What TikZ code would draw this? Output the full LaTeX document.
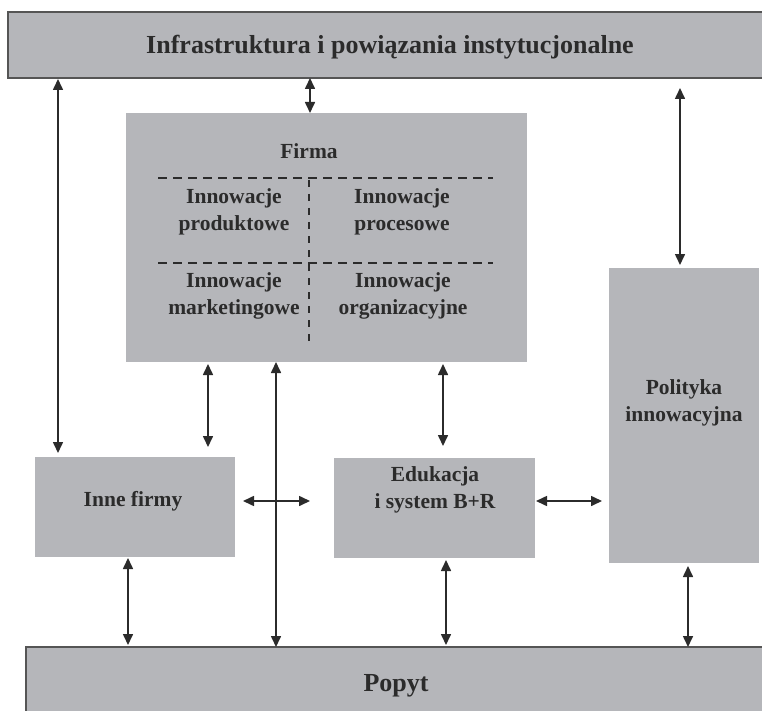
\documentclass[tikz,border=0pt]{standalone}
\usepackage{fontspec}
\setmainfont{Liberation Serif}
\usetikzlibrary{arrows.meta}
\definecolor{boxgray}{HTML}{B5B6BA}
\definecolor{inkgray}{HTML}{2B2B2B}
\begin{document}
\begin{tikzpicture}[x=1pt,y=-1pt,
  block/.style={fill=boxgray,draw=none,inner sep=0pt,outer sep=0pt},
  band/.style={fill=boxgray,draw=inkgray!80,line width=1.2pt,inner sep=0pt,outer sep=0pt},
  label/.style={text=inkgray,font=\fontsize{21.5}{26.5}\selectfont\bfseries,align=center,inner sep=0pt},
  biglabel/.style={text=inkgray,font=\fontsize{26}{30}\selectfont\bfseries,inner sep=0pt},
  link/.style={draw=inkgray,line width=1.6pt,{Triangle[length=11pt,width=10pt]}-{Triangle[length=11pt,width=10pt]}},
  divider/.style={draw=inkgray,line width=2.2pt,dash pattern=on 9pt off 6pt},
  vdivider/.style={draw=inkgray,line width=2.4pt,dash pattern=on 7pt off 7pt}]
\useasboundingbox (0,0) rectangle (762,711);
\clip (0,0) rectangle (762,711);

% outer bands
\node[band,minimum width=764pt,minimum height=66pt] (top) at (390,45) {};
\node[biglabel] at (390,47) {Infrastruktura i powiązania instytucjonalne};
\node[band,minimum width=740pt,minimum height=80pt] (pop) at (396,687) {};
\node[biglabel] at (396,686) {Popyt};

% firm block with its four kinds of innovation
\node[block,minimum width=401pt,minimum height=249pt] (firma) at (326.5,237.5) {};
\node[label] at (309,151) {Firma};
\draw[divider] (158,178) -- (493,178);
\draw[divider] (158,263) -- (493,263);
\draw[vdivider] (309,180) -- (309,348);
\node[label] at (234,212) {Innowacje\\produktowe};
\node[label] at (402,212) {Innowacje\\procesowe};
\node[label] at (234,296) {Innowacje\\marketingowe};
\node[label] at (403,296) {Innowacje\\organizacyjne};

% remaining actors
\node[block,minimum width=150pt,minimum height=295pt] (pol) at (684,415.5) {};
\node[label] at (684,403) {Polityka\\innowacyjna};
\node[block,minimum width=200pt,minimum height=100pt] (inne) at (135,507) {};
\node[label] at (133,501) {Inne firmy};
\node[block,minimum width=201pt,minimum height=100pt] (edu) at (434.5,508) {};
\node[label] at (435,490) {Edukacja\\i system B+R};

% columns and rows used by the connectors
\coordinate (cL) at (58,0);
\coordinate (cM) at (310,0);
\coordinate (cR) at (680,0);
\coordinate (cFI) at (208,0);
\coordinate (cLong) at (276,0);
\coordinate (cFE) at (443,0);
\coordinate (cIP) at (128,0);
\coordinate (cEP) at (446,0);
\coordinate (cPP) at (688,0);
\coordinate (rH) at (0,501);
\coordinate (xHend) at (310,0);

% connectors
\draw[link,shorten <=1pt,shorten >=4pt] (top.south -| cL) -- (inne.north -| cL);
\draw[link] (top.south -| cM) -- (firma.north -| cM);
\draw[link,shorten <=10pt,shorten >=3pt] (top.south -| cR) -- (pol.north -| cR);
\draw[link,shorten <=2pt,shorten >=10pt] (firma.south -| cFI) -- (inne.north -| cFI);
\draw[link] (firma.south -| cLong) -- (pop.north -| cLong);
\draw[link,shorten <=2pt,shorten >=12pt] (firma.south -| cFE) -- (edu.north -| cFE);
\draw[link,shorten <=8pt] (inne.east |- rH) -- (xHend |- rH);
\draw[link,shorten <=1pt,shorten >=7pt] (edu.east |- rH) -- (pol.west |- rH);
\draw[link,shorten <=1pt,shorten >=2pt] (inne.south -| cIP) -- (pop.north -| cIP);
\draw[link,shorten <=2pt,shorten >=2pt] (edu.south -| cEP) -- (pop.north -| cEP);
\draw[link,shorten <=3pt] (pol.south -| cPP) -- (pop.north -| cPP);
\end{tikzpicture}
\end{document}
